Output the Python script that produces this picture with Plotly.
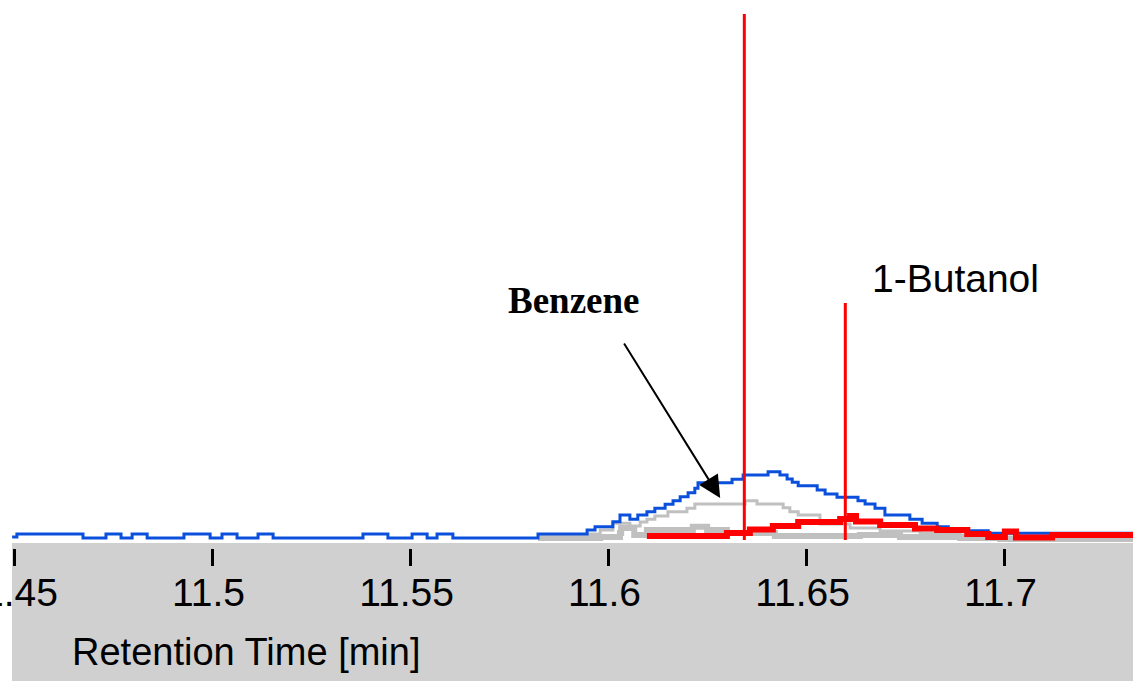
import plotly.graph_objects as go

# ---- data (retention time [min], intensity in arbitrary units) ----
blue_t = [11.4494, 11.4506, 11.4673, 11.4731, 11.4769, 11.4797, 11.4835, 11.4928, 11.4994, 11.5024,
          11.5062, 11.5115, 11.5153, 11.5380, 11.5443, 11.5504, 11.5542, 11.5567, 11.5607, 11.5822,
          11.5946, 11.5966, 11.6011, 11.6029, 11.6054, 11.6074, 11.6097, 11.6117, 11.6143, 11.6163,
          11.6181, 11.6201, 11.6218, 11.6226, 11.6312, 11.6340, 11.6403, 11.6433, 11.6451, 11.6464,
          11.6479, 11.6527, 11.6547, 11.6577, 11.6630, 11.6648, 11.6673, 11.6698, 11.6761, 11.6792,
          11.6830, 11.6858, 11.6906, 11.6959, 11.7325]
blue_i = [11, 14, 10, 14, 10, 14, 10, 14, 10, 14,
          10, 14, 10, 14, 10, 14, 10, 14, 10, 14,
          18, 21.3, 26.3, 33, 28.7, 33, 36.3, 39.7, 43.7, 47.3,
          51.3, 55.3, 59.7, 65.3, 68.7, 73, 76.3, 73, 69, 65.7,
          62.3, 58, 54, 50.7, 47.3, 44, 39.7, 33, 28.7, 24.7,
          21.3, 18.7, 17.3, 14.7, 14.7]

red_t = [11.6097, 11.6299, 11.6357, 11.6415, 11.6479, 11.6585, 11.6610, 11.6625, 11.6686, 11.6774,
         11.6830, 11.6906, 11.6959, 11.7001, 11.7029, 11.7120, 11.7325]
red_i = [12, 15, 18.5, 22, 26, 29, 32, 26.5, 23, 19.5,
         18, 14, 11, 16.5, 10.5, 13, 13]

grayA_t = [11.5822, 11.5948, 11.5979, 11.6011, 11.6054, 11.6080, 11.6097, 11.6117, 11.6150, 11.6198,
           11.6218, 11.6345, 11.6375, 11.6441, 11.6458, 11.6479, 11.6534, 11.6610, 11.6686, 11.6787,
           11.6888, 11.6989, 11.7325]
grayA_i = [10, 14, 18, 24.7, 22, 26, 28.7, 32, 36.3, 39.7,
           44, 47.3, 44, 40.3, 36.3, 33, 24, 20, 17, 15,
           13, 11, 11]

grayB_t = [11.5822, 11.5979, 11.6029, 11.6032, 11.6065, 11.6097, 11.6213, 11.6249, 11.6299, 11.6420,
           11.6484, 11.6635, 11.6736, 11.6888, 11.6989, 11.7325]
grayB_i = [10, 11, 15, 20, 13, 18, 21.3, 18, 15, 12,
           12, 13, 11, 10, 9, 9]

# ion peaks (stick markers)
stick_t = [11.6343, 11.6598]
stick_top = [534, 245]
stick_base = 8

tick_vals = [11.45, 11.5, 11.55, 11.6, 11.65, 11.7]
tick_text = ["11.45", "11.5", "11.55", "11.6", "11.65", "11.7"]
x_range = [11.44937, 11.73245]
y_range = [0, 548]

W, H = 1133, 681
plot_bottom_px = 548
band_top_px = 543

fig = go.Figure()
fig.add_trace(go.Scatter(x=grayB_t, y=grayB_i, mode="lines", line=dict(color="#c0c0c0", width=6, shape="hv"),
                         hoverinfo="skip", showlegend=False))
fig.add_trace(go.Scatter(x=grayA_t, y=grayA_i, mode="lines", line=dict(color="#c0c0c0", width=3, shape="hv"),
                         hoverinfo="skip", showlegend=False))
fig.add_trace(go.Scatter(x=blue_t, y=blue_i, mode="lines", line=dict(color="#0a50dc", width=3, shape="hv"),
                         showlegend=False))
fig.add_trace(go.Scatter(x=red_t, y=red_i, mode="lines", line=dict(color="#ff0000", width=6, shape="hv"),
                         showlegend=False))
for t, top in zip(stick_t, stick_top):
    fig.add_trace(go.Scatter(x=[t, t], y=[stick_base, top], mode="lines",
                             line=dict(color="#ff0000", width=3), showlegend=False))

# gray axis band
fig.add_shape(type="rect", xref="paper", yref="paper", x0=0, x1=1, y0=0, y1=(H - band_top_px) / H,
              fillcolor="#d0d0d0", line=dict(width=0), layer="below")

fig.add_annotation(x=11.5914, y=248, xref="x", yref="y", text="Benzene", showarrow=False,
                   font=dict(family="Liberation Serif, Times New Roman, serif", size=37, color="black", weight="bold"))
fig.add_annotation(x=11.6282, y=50, xref="x", yref="y", ax=11.6037, ay=206, axref="x", ayref="y",
                   text="", showarrow=True, arrowhead=2, arrowsize=2.2, arrowwidth=2, arrowcolor="black")
fig.add_annotation(x=11.6875, y=270, xref="x", yref="y", text="1-Butanol", showarrow=False,
                   font=dict(family="Liberation Sans, Arial, sans-serif", size=39, color="black"))
fig.add_annotation(x=(70 - 12) / (W - 12), y=(H - 652) / H, xref="paper", yref="paper", xanchor="left",
                   yanchor="middle", text="Retention Time [min]", showarrow=False,
                   font=dict(family="Liberation Sans, Arial, sans-serif", size=38, color="black"))

fig.update_layout(
    width=W, height=H,
    margin=dict(l=12, r=0, t=0, b=0, pad=0, autoexpand=False),
    paper_bgcolor="white", plot_bgcolor="rgba(0,0,0,0)",
    xaxis=dict(range=x_range, showgrid=False, zeroline=False, showline=False, automargin=False,
               tickmode="array", tickvals=tick_vals, ticktext=tick_text,
               ticks="outside", ticklen=17, tickwidth=3, tickcolor="black",
               ticklabeloverflow="allow", ticklabelstandoff=-7, ticklabelshift=-4,
               tickfont=dict(family="Liberation Sans, Arial, sans-serif", size=39, color="black")),
    yaxis=dict(range=y_range, domain=[1 - plot_bottom_px / H, 1], visible=False, automargin=False),
)

fig.write_html("out.html")
